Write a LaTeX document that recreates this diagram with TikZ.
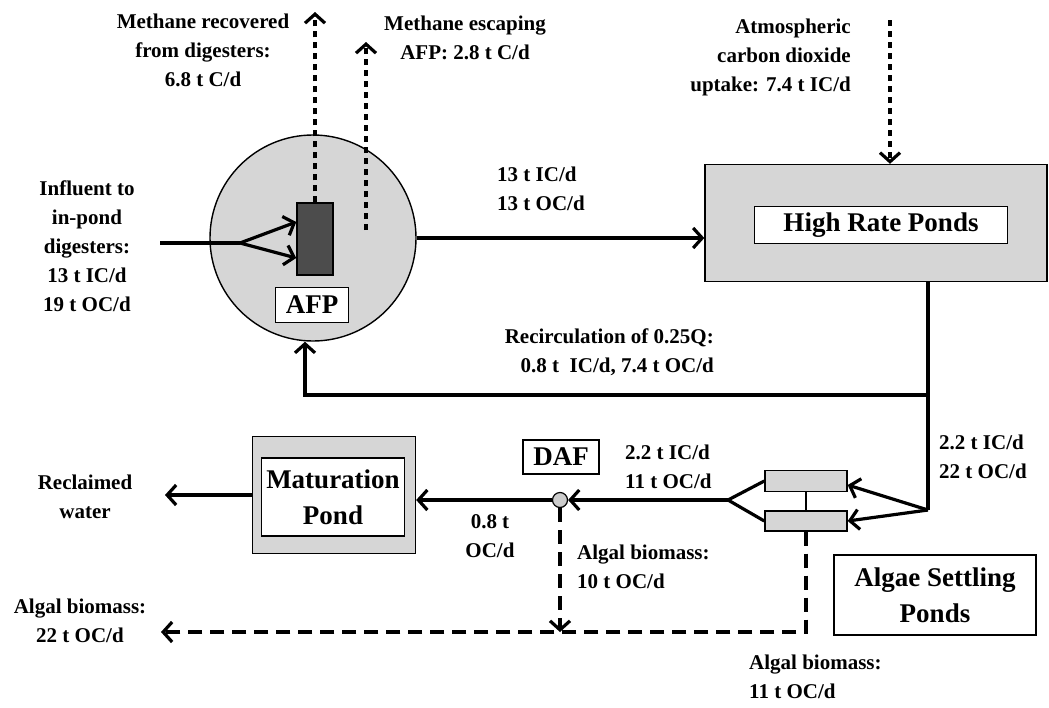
\documentclass[tikz,border=0pt]{standalone}
\usepackage{fontspec}
\setmainfont{Liberation Serif}
\usetikzlibrary{arrows.meta}
\begin{document}
\begin{tikzpicture}[x=1pt,y=-1pt,
  lbl/.style={font=\bfseries\fontsize{21}{29}\selectfont,align=center,inner sep=0pt},
  big/.style={font=\bfseries\fontsize{27}{36}\selectfont,align=center,draw,fill=white,line width=1.2pt,inner sep=0pt},
  pond/.style={draw,line width=1.4pt,fill=gray!32},
  pipe/.style={line width=3.2pt},
  flow/.style={pipe,-{Straight Barb[length=9pt,width=20pt]}},
  gas/.style={flow,dash pattern=on 6pt off 5pt},
  sludge/.style={flow,dash pattern=on 14pt off 8pt}]
        \useasboundingbox (0,0) rectangle (1049,707);
        \node[pond,circle,minimum size=206pt,inner sep=0pt] (afp) at (313,238) {};
        \node[draw,line width=1.5pt,fill=black!70,minimum width=36pt,minimum height=72pt,inner sep=0pt] (dig) at (315,239) {};
        \node[big,minimum width=73pt,minimum height=35pt] (afplbl) at (312,305) {AFP};
        \node[pond,minimum width=342pt,minimum height=117pt] (hrp) at (876,223) {};
        \node[big,minimum width=253pt,minimum height=37pt] (hrplbl) at (881,225) {High Rate Ponds};
        \node[pond,minimum width=163pt,minimum height=117pt] (mat) at (334,495) {};
        \node[big,minimum width=143pt,minimum height=78pt] (matlbl) at (333,497) {Maturation\\Pond};
        \node[big,minimum width=76pt,minimum height=34pt] (daflbl) at (561,457) {DAF};
        \node[big,minimum width=202pt,minimum height=80pt] (asp) at (935,595) {Algae Settling\\Ponds};
        \node[pond,minimum width=82pt,minimum height=21pt,inner sep=0pt] (set1) at (806,481) {};
        \node[pond,minimum width=82pt,minimum height=20pt,inner sep=0pt] (set2) at (806,521) {};
        \node[circle,draw,line width=1.2pt,fill=gray!40,minimum size=15pt,inner sep=0pt] (daf) at (560,500) {};
        \node[lbl] (mrect) at (203,50) {Methane recovered\\from digesters:\\6.8 t C/d};
        \node[lbl] (mesct) at (465,38) {Methane escaping\\AFP: 2.8 t C/d};
        \node[lbl,align=right,anchor=east] (co2t) at (851,57) {Atmospheric\\carbon dioxide\\uptake: 7.4 t IC/d};
        \node[lbl] (inft) at (87,246) {Influent to\\in-pond\\digesters:\\13 t IC/d\\19 t OC/d};
        \node[lbl,align=left,anchor=west] (q1) at (497,189) {13 t IC/d\\13 t OC/d};
        \node[lbl,align=right,anchor=east] (rect) at (714,352) {Recirculation of 0.25Q:\\0.8 t\ \ IC/d, 7.4 t OC/d};
        \node[lbl,align=left,anchor=west] (q2) at (939,457) {2.2 t IC/d\\22 t OC/d};
        \node[lbl,align=left,anchor=west] (q3) at (625,467) {2.2 t IC/d\\11 t OC/d};
        \node[lbl] (q4) at (490,536) {0.8 t\\OC/d};
        \node[lbl] (reclt) at (85,497) {Reclaimed\\water};
        \node[lbl,align=left,anchor=west] (bio1) at (577,567) {Algal biomass:\\10 t OC/d};
        \node[lbl] (bio2) at (80,621) {Algal biomass:\\22 t OC/d};
        \node[lbl,align=left,anchor=west] (bio3) at (749,677) {Algal biomass:\\11 t OC/d};
        \coordinate (mrec) at (315,12);
        \coordinate (mesc0) at (366,230);
        \coordinate (mesc) at (366,42);
        \coordinate (co2) at (890,20);
        \coordinate (inf0) at (160,243);
        \coordinate (split) at (240,243);
        \coordinate (drop) at (928,510);
        \coordinate (rtee) at (928,395);
        \coordinate (rcorner) at (305,395);
        \coordinate (merge) at (728,500);
        \coordinate (recl) at (165,495);
        \coordinate (sink) at (806,632);
        \coordinate (out) at (161,632);
        \draw[gas] (dig.north) -- (mrec);
        \draw[gas] (mesc0) -- (mesc);
        \draw[gas] (co2) -- (co2 |- hrp.north);
        \draw[pipe] (inf0) -- (split);
        \draw[flow] (split) -- ([yshift=17pt]dig.west);
        \draw[flow] (split) -- ([yshift=-19pt]dig.west);
        \draw[flow] (afp.east) -- (afp.east -| hrp.west);
        \draw[pipe] (hrp.south -| drop) -- (drop);
        \draw[flow] (rtee) -- (rcorner) -- (rcorner |- afp.south);
        \draw[flow] (drop) -- ([yshift=-4pt]set1.east);
        \draw[flow] (drop) -- (set2.east);
        \draw[line width=2.4pt] (set1.south) -- (set2.north);
        \draw[pipe] (set1.west) -- (merge) -- (set2.west);
        \draw[flow] (merge) -- (daf.east);
        \draw[flow] (daf.west) -- (daf.west -| mat.east);
        \draw[flow] (mat.west) -- (recl);
        \draw[sludge] (set2.south) -- (sink) -- (out);
        \draw[sludge] (daf.south) -- (daf.south |- sink);
    \end{tikzpicture}
\end{document}
